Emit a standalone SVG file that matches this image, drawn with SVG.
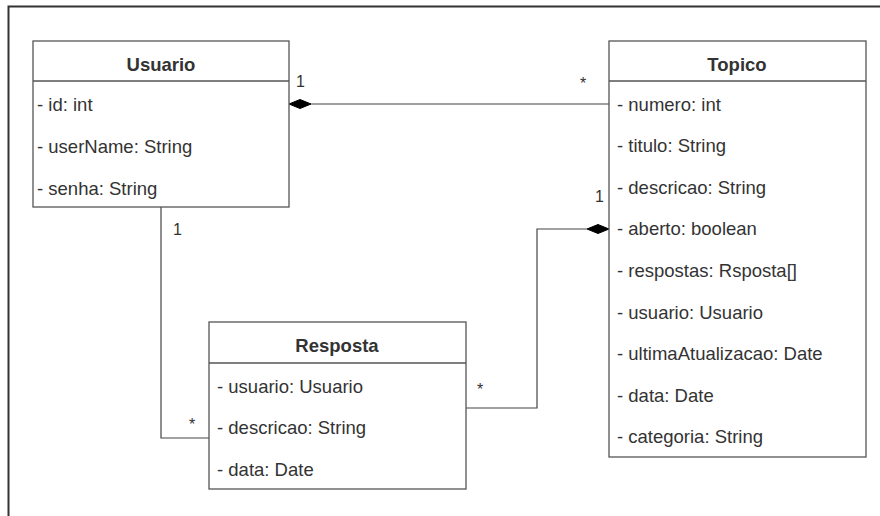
<svg xmlns="http://www.w3.org/2000/svg" width="880" height="516" viewBox="0 0 880 516">
<style>
.box{fill:#fff;stroke:#555;stroke-width:1.3}
.div{stroke:#555;stroke-width:1.3}
.t{font-family:"Liberation Sans",Arial,sans-serif;font-size:18.5px;font-weight:bold;fill:#333;text-anchor:middle}
.a{font-family:"Liberation Sans",Arial,sans-serif;font-size:18.5px;fill:#333}
.m{font-family:"Liberation Sans",Arial,sans-serif;font-size:16px;fill:#333}
.c{fill:none;stroke:#444;stroke-width:1.2}
.d{fill:#000;stroke:#000;stroke-width:1}
</style>
<rect width="880" height="516" fill="#fff"/>
<polyline points="8.5,516 8.5,6.5 880,6.5" fill="none" stroke="#333" stroke-width="2"/>
<g id="connectors">
<line class="c" x1="311" y1="104" x2="609" y2="104"/>
<polygon class="d" points="289,104 300,99.5 311,104 300,108.5"/>
<text class="m" x="296" y="87">1</text>
<text class="m" x="580" y="89">*</text>
<polyline class="c" points="161,207 161,438 209,438"/>
<text class="m" x="173" y="235">1</text>
<text class="m" x="189" y="430">*</text>
<polyline class="c" points="466,408 537,408 537,229 587,229"/>
<polygon class="d" points="609,229 598,224.5 587,229 598,233.5"/>
<text class="m" x="595" y="202">1</text>
<text class="m" x="477" y="395">*</text>
</g>
<g id="usuario">
<rect class="box" x="33" y="41" width="256" height="166"/>
<line class="div" x1="33" y1="81" x2="289" y2="81"/>
<text class="t" x="161" y="70.5">Usuario</text>
<text class="a" x="37" y="110.5">- id: int</text>
<text class="a" x="37" y="152.5">- userName: String</text>
<text class="a" x="37" y="194.5">- senha: String</text>
</g>
<g id="topico">
<rect class="box" x="609" y="41" width="257" height="416"/>
<line class="div" x1="609" y1="81" x2="866" y2="81"/>
<text class="t" x="737" y="70.5">Topico</text>
<text class="a" x="617" y="110.5">- numero: int</text>
<text class="a" x="617" y="152">- titulo: String</text>
<text class="a" x="617" y="193.7">- descricao: String</text>
<text class="a" x="617" y="235.3">- aberto: boolean</text>
<text class="a" x="617" y="277">- respostas: Rsposta[]</text>
<text class="a" x="617" y="318.6">- usuario: Usuario</text>
<text class="a" x="617" y="360.2">- ultimaAtualizacao: Date</text>
<text class="a" x="617" y="401.8">- data: Date</text>
<text class="a" x="617" y="443.4">- categoria: String</text>
</g>
<g id="resposta">
<rect class="box" x="209" y="322" width="257" height="167"/>
<line class="div" x1="209" y1="363" x2="466" y2="363"/>
<text class="t" x="337" y="352">Resposta</text>
<text class="a" x="217" y="392.5">- usuario: Usuario</text>
<text class="a" x="217" y="434">- descricao: String</text>
<text class="a" x="217" y="475.5">- data: Date</text>
</g>
</svg>
